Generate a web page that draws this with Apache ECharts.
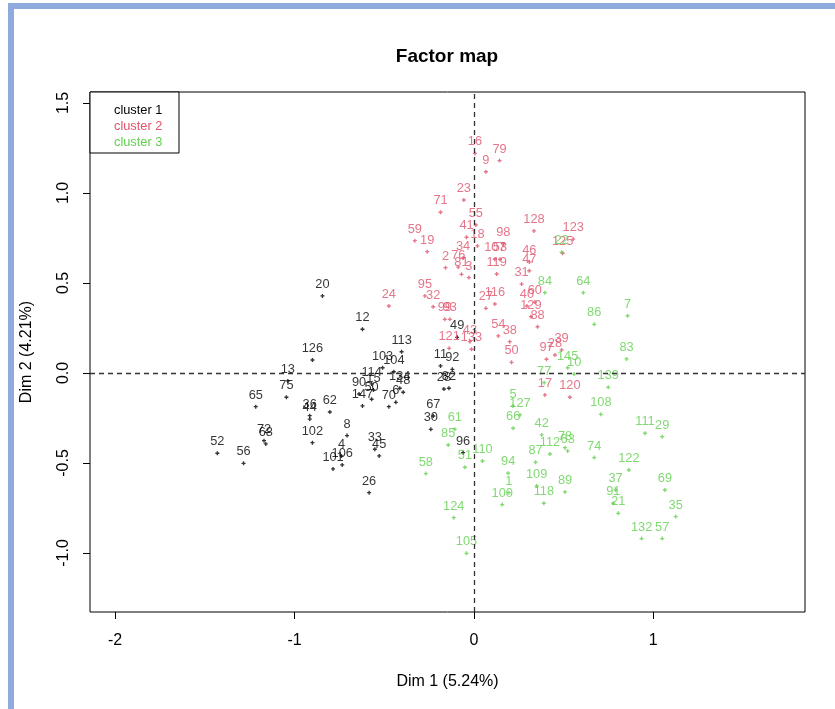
<!DOCTYPE html>
<html>
<head>
<meta charset="utf-8">
<title>Factor map</title>
<script src="https://cdn.jsdelivr.net/npm/echarts@6/dist/echarts.min.js"></script>
<style>
  html, body { margin: 0; padding: 0; background: #ffffff; }
  #frame { position: absolute; left: 8px; top: 3px; width: 827px; height: 706px;
           border-left: 6px solid #8faadc; border-top: 6px solid #8faadc; box-sizing: border-box; pointer-events: none; z-index: 5; }
  #chart { position: absolute; left: 0; top: 0; width: 835px; height: 709px; }
</style>
</head>
<body>
<div id="chart"></div>
<div id="frame"></div>
<script>
// Individuals on the first factorial plane, grouped by cluster
const cluster1Labels = ['20','126','13','75','65','36','44','72','68','52','56','102','62','12','113','103','104','114','134','48','6','70','90','15','50','147','8','4','106','101','33','45','26','67','30','96','49','11','92','28','82'];
const cluster1X = [-0.844,-0.90,-1.037,-1.045,-1.216,-0.915,-0.915,-1.17,-1.16,-1.43,-1.284,-0.90,-0.803,-0.621,-0.403,-0.509,-0.446,-0.57,-0.413,-0.394,-0.435,-0.474,-0.64,-0.56,-0.57,-0.621,-0.707,-0.738,-0.734,-0.785,-0.552,-0.528,-0.584,-0.226,-0.24,-0.06,-0.093,-0.186,-0.12,-0.167,-0.139];
const cluster1Y = [0.428,0.072,-0.044,-0.135,-0.187,-0.237,-0.256,-0.376,-0.394,-0.446,-0.502,-0.387,-0.217,0.243,0.118,0.029,0.007,-0.061,-0.085,-0.107,-0.163,-0.187,-0.117,-0.094,-0.146,-0.183,-0.348,-0.461,-0.511,-0.533,-0.424,-0.461,-0.665,-0.239,-0.313,-0.443,0.198,0.039,0.02,-0.089,-0.085];

const cluster2Labels = ['16','79','9','23','71','55','41','18','59','19','98','107','53','119','34','2','76','81','3','95','32','24','99','93','121','43','133','116','27','54','38','50','128','123','125','46','47','31','40','60','129','88','97','28','39','17','120'];
const cluster2X = [0.006,0.143,0.067,-0.056,-0.186,0.011,-0.041,0.02,-0.329,-0.26,0.164,0.117,0.145,0.127,-0.06,-0.158,-0.087,-0.069,-0.028,-0.273,-0.227,-0.474,-0.162,-0.134,-0.138,-0.022,-0.013,0.117,0.067,0.136,0.2,0.21,0.335,0.554,0.495,0.309,0.309,0.266,0.296,0.34,0.318,0.355,0.405,0.452,0.489,0.396,0.535];
const cluster2Y = [1.22,1.18,1.118,0.961,0.893,0.822,0.754,0.706,0.735,0.674,0.717,0.632,0.632,0.55,0.639,0.585,0.588,0.548,0.53,0.428,0.368,0.372,0.298,0.298,0.137,0.174,0.132,0.383,0.359,0.206,0.174,0.059,0.789,0.744,0.665,0.617,0.568,0.494,0.372,0.394,0.313,0.257,0.076,0.1,0.128,-0.122,-0.135];

const cluster3Labels = ['22','84','64','7','86','83','145','10','77','139','108','111','29','74','122','37','91','21','69','35','132','57','5','127','66','42','112','78','63','87','109','118','89','94','1','100','110','61','85','51','58','124','105'];
const cluster3X = [0.489,0.396,0.61,0.857,0.671,0.851,0.523,0.559,0.392,0.749,0.708,0.954,1.05,0.671,0.864,0.79,0.777,0.805,1.065,1.125,0.935,1.05,0.218,0.257,0.219,0.378,0.424,0.508,0.523,0.344,0.35,0.39,0.508,0.191,0.195,0.158,0.048,-0.106,-0.143,-0.05,-0.268,-0.112,-0.041];
const cluster3Y = [0.67,0.446,0.446,0.318,0.27,0.078,0.029,-0.006,-0.054,-0.08,-0.23,-0.335,-0.354,-0.47,-0.539,-0.65,-0.724,-0.78,-0.65,-0.798,-0.92,-0.92,-0.183,-0.233,-0.307,-0.344,-0.45,-0.415,-0.433,-0.496,-0.628,-0.724,-0.661,-0.557,-0.665,-0.731,-0.489,-0.313,-0.4,-0.524,-0.559,-0.804,-1.002];

const clusterNames = ['cluster 1', 'cluster 2', 'cluster 3'];
const clusterColors = ['#000000', '#DF536B', '#61D04F'];
const xTicks = [-2, -1, 0, 1];
const yTicks = [-1, -0.5, 0, 0.5, 1, 1.5];

const FONT = '"Liberation Sans", Arial, sans-serif';
const PLUS = 'path://M1,0H2V1H3V2H2V3H1V2H0V1H1Z';

function toPoints(xs, ys, labels) {
  return xs.map((x, i) => [x, ys[i], labels[i]]);
}

const clusters = [
  toPoints(cluster1X, cluster1Y, cluster1Labels),
  toPoints(cluster2X, cluster2Y, cluster2Labels),
  toPoints(cluster3X, cluster3Y, cluster3Labels)
];

const series = clusters.map((pts, k) => ({
  name: clusterNames[k],
  type: 'scatter',
  data: pts,
  symbol: PLUS,
  symbolSize: 4,
  itemStyle: { color: clusterColors[k] },
  label: {
    show: true,
    position: 'top',
    distance: 3,
    formatter: p => p.data[2],
    color: clusterColors[k],
    fontFamily: FONT,
    fontSize: 12.8
  },
  z: 3
}));

// Dashed reference lines through the origin
series.unshift({
  type: 'scatter',
  data: [],
  silent: true,
  markLine: {
    silent: true,
    symbol: ['none', 'none'],
    label: { show: false },
    lineStyle: { type: [5, 4], color: '#333333', width: 1.3 },
    data: [{ xAxis: 0 }, { yAxis: 0 }],
    animation: false
  },
  z: 2
});

const chart = echarts.init(document.getElementById('chart'), null, { renderer: 'canvas' });
chart.setOption({
  animation: false,
  backgroundColor: '#ffffff',
  grid: {
    left: 90, top: 92, width: 715, height: 520,
    show: true, borderColor: '#000000', borderWidth: 1, backgroundColor: 'transparent'
  },
  xAxis: {
    type: 'value',
    min: -2.14, max: 1.846,
    name: 'Dim 1 (5.24%)',
    nameLocation: 'middle',
    nameGap: 62,
    nameTextStyle: { fontFamily: FONT, fontSize: 16, color: '#000' },
    axisLine: { show: false, onZero: false },
    splitLine: { show: false },
    axisTick: { show: true, length: 7, customValues: xTicks, lineStyle: { color: '#000' } },
    axisLabel: { customValues: xTicks, margin: 21, fontFamily: FONT, fontSize: 16, color: '#000',
                 formatter: v => String(v) }
  },
  yAxis: {
    type: 'value',
    min: -1.328, max: 1.561,
    name: 'Dim 2 (4.21%)',
    nameLocation: 'middle',
    nameGap: 55,
    nameRotate: 90,
    nameTextStyle: { fontFamily: FONT, fontSize: 16, color: '#000' },
    axisLine: { show: false, onZero: false },
    splitLine: { show: false },
    axisTick: { show: true, length: 7, customValues: yTicks, lineStyle: { color: '#000' } },
    axisLabel: { customValues: yTicks, rotate: 90, margin: 18, fontFamily: FONT, fontSize: 16, color: '#000',
                 formatter: v => v.toFixed(1) }
  },
  graphic: [
    {
      type: 'text',
      x: 447, y: 57,
      style: { text: 'Factor map', align: 'center', verticalAlign: 'middle',
               font: 'bold 19px ' + FONT, fill: '#000' },
      z: 10
    },
    {
      type: 'group', x: 90, y: 92,
      children: [
        { type: 'rect', shape: { x: 0, y: 0, width: 89, height: 61 },
          style: { fill: '#ffffff', stroke: '#000000', lineWidth: 1 } },
        { type: 'text', style: { text: clusterNames[0], x: 24, y: 18, verticalAlign: 'middle',
          font: '12.8px ' + FONT, fill: clusterColors[0] } },
        { type: 'text', style: { text: clusterNames[1], x: 24, y: 34, verticalAlign: 'middle',
          font: '12.8px ' + FONT, fill: clusterColors[1] } },
        { type: 'text', style: { text: clusterNames[2], x: 24, y: 50, verticalAlign: 'middle',
          font: '12.8px ' + FONT, fill: clusterColors[2] } }
      ],
      z: 10
    }
  ],
  series: series
});
</script>
</body>
</html>
